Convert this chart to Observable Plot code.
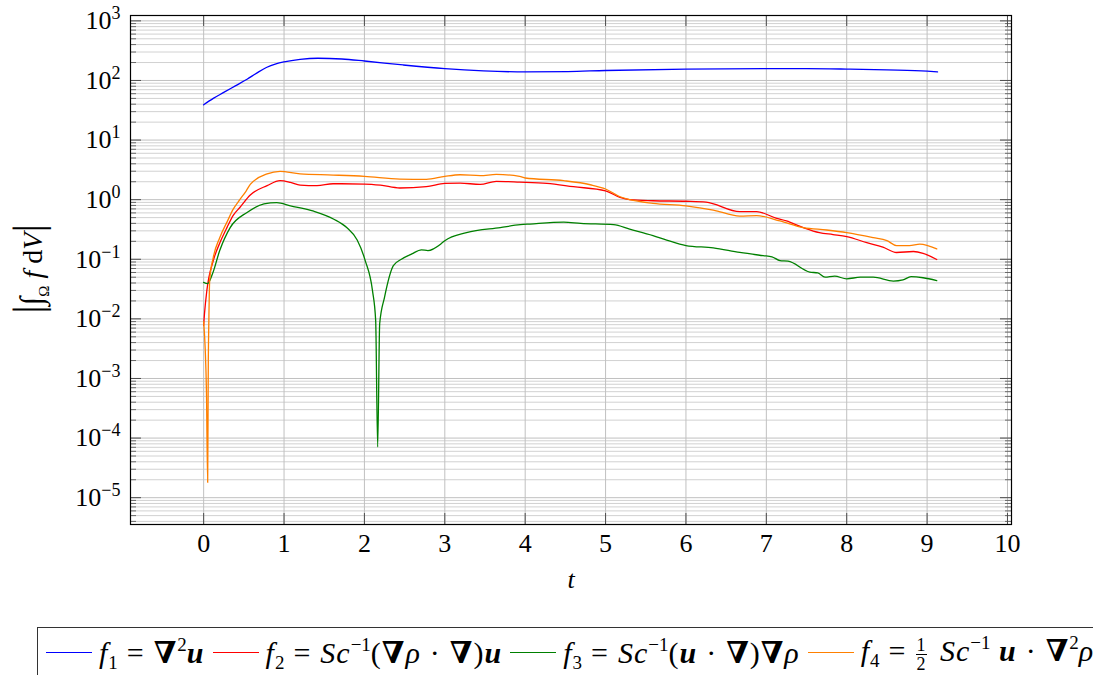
<!DOCTYPE html>
<html><head><meta charset="utf-8">
<script src="https://cdn.jsdelivr.net/npm/d3@7"></script>
<script src="https://cdn.jsdelivr.net/npm/@observablehq/plot@0.6"></script>
<style>
body{margin:0;background:#fff;overflow:hidden;font-family:"Liberation Serif","Tinos","Times New Roman","DejaVu Serif",serif;color:#000;}
#wrap{position:relative;width:1093px;height:675px;overflow:hidden;}
#chart{position:absolute;left:0;top:0;}
#ylab{position:absolute;left:29px;top:269px;transform:translate(-50%,-50%) rotate(-90deg);font-size:28px;white-space:nowrap;line-height:1;}
#ylab .bar{font-size:42px;font-weight:100;}
#ylab .int{font-size:32px;font-style:italic;}
#ylab sub{font-size:15px;vertical-align:-7px;}
#legend{position:absolute;left:37px;top:627px;border:1px solid #333;padding:5px 8px 26px 8px;white-space:nowrap;font-size:30px;letter-spacing:1px;display:flex;align-items:center;}
#legend sub,#legend sup{font-size:19px;line-height:0;letter-spacing:0;}
#legend sup{vertical-align:12px;}
#legend sub{vertical-align:-6px;}
#legend .op{margin:0 9px;}
#legend .dot{margin:0 9px;}
.item{display:inline-flex;align-items:center;}
.sw{display:inline-block;width:46px;height:1.3px;margin:0 7px 0 8px;}
.item:first-child .sw{margin-left:0;}
.frac{display:inline-flex;flex-direction:column;font-size:18px;line-height:1;vertical-align:middle;text-align:center;margin:0 5px 0 0;letter-spacing:0;}
.frac span:first-child{border-bottom:1px solid #000;padding:0 1px;}
</style></head>
<body>
<div id="wrap">
<div id="chart"></div>
<div id="ylab"><span class="bar">|</span><span class="int">∫</span><sub>Ω</sub>&nbsp;<i>f</i>&nbsp;d<i>V</i><span class="bar">|</span></div>
<div id="legend">
<span class="item"><span class="sw" style="background:#0000ff"></span><span><i>f</i><sub>1</sub><span class="op">=</span><b>∇</b><sup>2</sup><b><i>u</i></b></span></span>
<span class="item"><span class="sw" style="background:#ff0000"></span><span><i>f</i><sub>2</sub><span class="op">=</span><i>Sc</i><sup>−1</sup>(<b>∇</b><i>ρ</i><span class="dot">·</span><b>∇</b>)<b><i>u</i></b></span></span>
<span class="item"><span class="sw" style="background:#008000"></span><span><i>f</i><sub>3</sub><span class="op">=</span><i>Sc</i><sup>−1</sup>(<b><i>u</i></b><span class="dot">·</span><b>∇</b>)<b>∇</b><i>ρ</i></span></span>
<span class="item"><span class="sw" style="background:#ff8000"></span><span><i>f</i><sub>4</sub><span class="op">=</span><span class="frac"><span>1</span><span>2</span></span> <i>Sc</i><sup>−1</sup> <b><i>u</i></b><span class="dot">·</span><b>∇</b><sup>2</sup><i>ρ</i></span></span>
</div>
</div>
<script>
// ---- data ----
const seriesNames = ["f1", "f2", "f3", "f4"];
const seriesColors = ["#0000ff", "#ff0000", "#008000", "#ff8000"];

const f1T = [0, 0.12, 0.25, 0.4, 0.54, 0.66, 0.78, 0.9, 1.0, 1.2, 1.42, 1.72, 2.0, 2.48, 3.0, 3.48, 4.0, 4.53, 5.0, 6.0, 7.0, 7.5, 8.0, 8.5, 9.0, 9.13];
const f1V = [39, 50, 63, 82, 105, 133, 165, 190, 205, 226, 236, 229, 212, 182, 158, 145, 139, 141, 147, 155, 158, 158, 155, 150, 143, 139];

const f2T = [0, 0.01, 0.04, 0.12, 0.21, 0.29, 0.37, 0.45, 0.58, 0.79, 0.95, 1.08, 1.2, 1.41, 1.61, 2.0, 2.2, 2.44, 2.77, 3.0, 3.19, 3.44, 3.64, 3.93, 4.27, 4.6, 5.0, 5.18, 5.3, 5.59, 6.0, 6.25, 6.67, 6.88, 7.12, 7.25, 7.46, 7.66, 7.83, 8.0, 8.25, 8.45, 8.62, 8.83, 8.95, 9.12];
const f2V = [0.0078, 0.012, 0.030, 0.095, 0.20, 0.34, 0.55, 0.74, 1.2, 1.72, 2.08, 1.95, 1.76, 1.72, 1.85, 1.83, 1.75, 1.57, 1.65, 1.87, 1.9, 1.80, 2.03, 1.97, 1.87, 1.65, 1.41, 1.09, 1.0, 0.96, 0.94, 0.91, 0.63, 0.63, 0.49, 0.44, 0.34, 0.28, 0.26, 0.24, 0.19, 0.16, 0.13, 0.135, 0.126, 0.099];

const f3T = [0, 0.05, 0.11, 0.2, 0.33, 0.54, 0.75, 0.91, 1.08, 1.37, 1.62, 1.78, 1.91, 2.01, 2.1, 2.14, 2.165, 2.19, 2.25, 2.36, 2.46, 2.59, 2.71, 2.79, 2.96, 3.0, 3.27, 3.69, 3.94, 4.06, 4.48, 4.69, 5.1, 5.3, 5.59, 5.76, 6.0, 6.34, 6.67, 6.96, 7.07, 7.17, 7.27, 7.54, 7.64, 7.73, 7.85, 8.0, 8.17, 8.33, 8.58, 8.7, 8.8, 8.95, 9.12];
const f3V = [0.041, 0.039, 0.057, 0.14, 0.34, 0.61, 0.85, 0.89, 0.79, 0.64, 0.47, 0.34, 0.21, 0.095, 0.030, 0.0094, 0.000071, 0.0083, 0.023, 0.078, 0.10, 0.123, 0.144, 0.14, 0.185, 0.205, 0.28, 0.34, 0.38, 0.39, 0.42, 0.40, 0.38, 0.32, 0.25, 0.21, 0.17, 0.155, 0.13, 0.115, 0.11, 0.095, 0.093, 0.061, 0.059, 0.050, 0.052, 0.047, 0.05, 0.05, 0.043, 0.045, 0.051, 0.049, 0.044];

const f4T = [0, 0.02, 0.035, 0.05, 0.058, 0.065, 0.075, 0.12, 0.2, 0.29, 0.37, 0.45, 0.53, 0.58, 0.79, 0.95, 1.2, 1.61, 2.0, 2.44, 2.77, 3.0, 3.19, 3.44, 3.64, 3.93, 4.0, 4.48, 4.81, 5.0, 5.18, 5.3, 5.59, 6.0, 6.34, 6.67, 6.88, 7.17, 7.46, 7.75, 8.0, 8.33, 8.5, 8.62, 8.78, 8.91, 9.12];
const f4V = [0.009, 0.003, 0.0006, 0.000018, 0.002, 0.01, 0.044, 0.108, 0.23, 0.42, 0.70, 1.0, 1.41, 1.8, 2.7, 2.98, 2.7, 2.59, 2.46, 2.22, 2.19, 2.46, 2.62, 2.53, 2.65, 2.46, 2.31, 2.08, 1.78, 1.51, 1.12, 1.0, 0.87, 0.79, 0.67, 0.53, 0.54, 0.44, 0.34, 0.31, 0.28, 0.23, 0.205, 0.17, 0.17, 0.18, 0.149];

const xTickValues = [0, 1, 2, 3, 4, 5, 6, 7, 8, 9, 10];
const yExponents = [-5, -4, -3, -2, -1, 0, 1, 2, 3];

// ---- build table ----
const allT = [f1T, f2T, f3T, f4T];
const allV = [f1V, f2V, f3V, f4V];
const rows = [];
seriesNames.forEach((s, i) => allT[i].forEach((t, j) => rows.push({s, t, v: allV[i][j]})));

const W = 1093, H = 600, mL = 130, mR = 82, mT = 15, mB = 76;
const frameW = W - mL - mR, frameH = H - mT - mB;
const ymin = 10 ** -5.45, ymax = 10 ** 3.09;
const yMajor = yExponents.map(e => 10 ** e);
const yMinor = [];
for (let e = -6; e <= 3; e++) for (let k = 2; k <= 9; k++) { const v = k * 10 ** e; if (v > ymin && v < ymax) yMinor.push(v); }

const fontStack = '"Liberation Serif", Tinos, "Times New Roman", "DejaVu Serif", serif';
const tickColor = "#4d4d4d";
const chart = Plot.plot({
  width: W, height: H,
  marginLeft: mL, marginRight: mR, marginTop: mT, marginBottom: mB,
  style: {fontFamily: fontStack, fontSize: "26px", color: "#000", background: "#fff"},
  x: {domain: [-0.91, 10.05]},
  y: {type: "log", domain: [ymin, ymax]},
  color: {domain: seriesNames, range: seriesColors},
  marks: [
    Plot.ruleY(yMinor, {stroke: "#cccccc", strokeWidth: 0.9}),
    Plot.ruleY(yMajor, {stroke: "#c0c0c0", strokeWidth: 1}),
    Plot.ruleX(xTickValues, {stroke: "#c0c0c0", strokeWidth: 1}),
    Plot.ruleY(yMajor, {stroke: tickColor, insetRight: frameW - 11}),
    Plot.ruleY(yMajor, {stroke: tickColor, insetLeft: frameW - 11}),
    Plot.ruleY(yMinor, {stroke: tickColor, strokeWidth: 0.8, insetRight: frameW - 6}),
    Plot.ruleY(yMinor, {stroke: tickColor, strokeWidth: 0.8, insetLeft: frameW - 6}),
    Plot.ruleX(xTickValues, {stroke: tickColor, insetTop: frameH - 11}),
    Plot.ruleX(xTickValues, {stroke: tickColor, insetBottom: frameH - 11}),
    Plot.line(rows, {x: "t", y: "v", z: "s", stroke: "s", strokeWidth: 1.3, curve: "monotone-x"}),
    Plot.frame({stroke: "#000", strokeWidth: 1.2}),
    Plot.axisX(xTickValues, {tickSize: 0, tickPadding: 9, fontSize: 26, label: "t", labelAnchor: "center", labelOffset: 63, labelArrow: "none", tickFormat: d => String(d)}),
    Plot.axisY(yMajor, {tickSize: 0, tickPadding: 10, fontSize: 26, label: null, tickFormat: d => "10^" + Math.round(Math.log10(d))})
  ]
});
document.getElementById("chart").appendChild(chart);

// superscript exponents on y tick labels
const NS = "http://www.w3.org/2000/svg";
chart.querySelectorAll('g[aria-label="y-axis tick label"] text').forEach(el => {
  const [b, e] = el.textContent.split("^");
  if (e === undefined) return;
  el.textContent = "";
  const t1 = document.createElementNS(NS, "tspan"); t1.textContent = b; el.appendChild(t1);
  const t2 = document.createElementNS(NS, "tspan");
  t2.textContent = e.replace("-", "\u2212");
  t2.setAttribute("dy", "-10"); t2.setAttribute("font-size", "18");
  el.appendChild(t2);
});
chart.querySelectorAll('g[aria-label="x-axis label"] text').forEach(el => el.setAttribute("font-style", "italic"));
</script>
</body></html>
